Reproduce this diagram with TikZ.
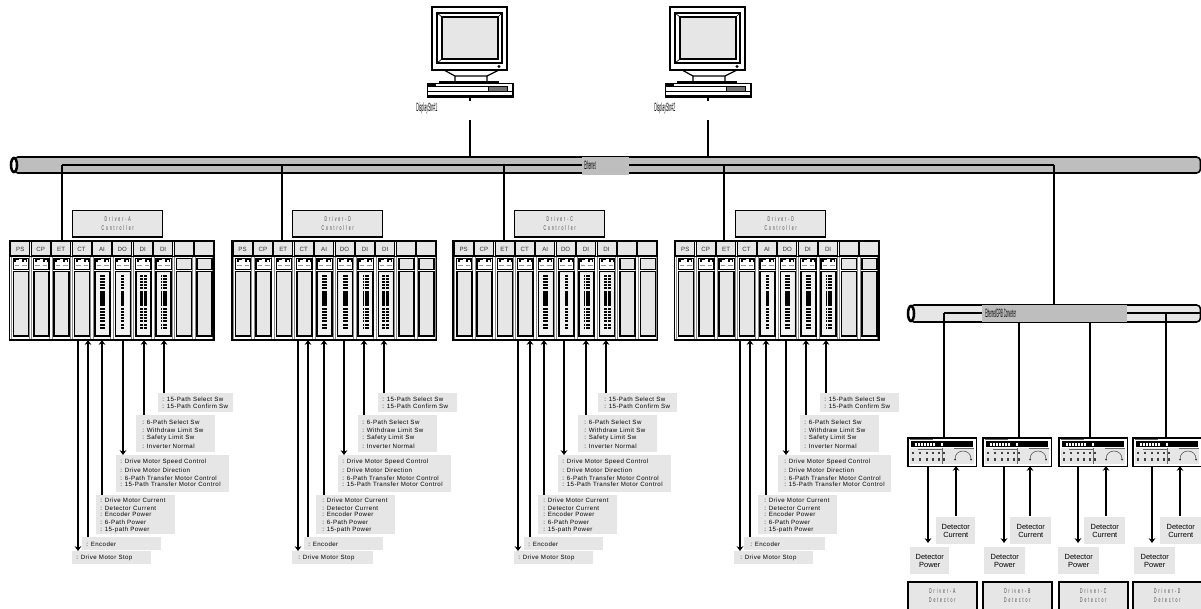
\documentclass[tikz,border=0pt]{standalone}
\usepackage{graphicx}
\usepackage{fontspec}
\usetikzlibrary{arrows.meta,calc}
\setmainfont{Liberation Sans}
\newfontfamily\lblfont[LetterSpace=7]{Liberation Sans}
\newfontfamily\wideletters[LetterSpace=55]{Liberation Sans}
\definecolor{panel}{HTML}{E6E6E6}
\definecolor{busgray}{HTML}{BEBEBE}
\tikzset{
  conn/.style={line width=1.3pt,draw=black},
  tipdown/.style={-{Stealth[length=3.6pt,width=5pt]}},
  tipup/.style={{Stealth[length=3.6pt,width=5pt]}-},
  frame/.style={line width=1.2pt,draw=black},
  lblbox/.style={fill=panel,draw=none,inner sep=0,anchor=north west},
  lbltxt/.style={anchor=west,inner sep=0,font=\lblfont\fontsize{4.6}{5}\selectfont},
  celltxt/.style={inner sep=0,font=\fontsize{4.6}{5}\selectfont,text=black!80},
  widetxt/.style={inner sep=0,text=black!75},
  squeezed/.style={inner sep=0,anchor=west},
  dettxt/.style={inner sep=0,align=center,font=\fontsize{5.6}{6}\selectfont},
}
\newcommand\spaced[1]{\scalebox{0.5}[1]{\wideletters\fontsize{5.2}{6}\selectfont #1}}
\newcommand\narrowtext[2]{\scalebox{#1}[1]{\fontsize{9}{10}\selectfont #2}}
% computer
\newcommand\computer[3]{% name, dx, label
 \begin{scope}[shift={(#2,0)}]
  \filldraw[frame,fill=white] (432,7) rectangle (507,70);
  \filldraw[line width=1pt,draw=black,fill=white] (437,13) rectangle (502,63);
  \filldraw[line width=1.2pt,draw=black,fill=panel] (442,17) rectangle (498,59);
  \draw[line width=.5pt] (437,13)--(442,17) (502,13)--(498,17) (437,63)--(442,59);
  \fill (499,66.5) circle (1.6);
  \draw[line width=.9pt] (444,70)--(455,76)--(455,81) (499,70)--(487,76)--(487,81) (455,76)--(487,76);
  \fill (439,80.5) rectangle (499,83.5);
  \filldraw[line width=.8pt,draw=black,fill=white] (427.5,83.5) rectangle (513,97);
  \fill (428,94.5) rectangle (513,98);
  \draw[line width=.7pt] (428,91.5)--(513,91.5) (436,86)--(488,86);
  \fill (428,84) rectangle (436,86.5);
  \filldraw[line width=.6pt,draw=black,fill=black!55] (488,86) rectangle (507,91);
  \coordinate (#1stub) at (470,98);
  \coordinate (#1stube) at (470,101);
  \coordinate (#1up) at (470,120);
  \coordinate (#1bus) at (470,165);
  \draw[conn] (#1stub)--(#1stube) (#1up)--(#1bus);
  \node[squeezed] (#1lbl) at (416,108.5) {\narrowtext{0.3}{#3}};
 \end{scope}}
% io block column
\newcommand\ioBlocks[2]{% x of body left, mode
 \foreach \g/\nr in {0/5,1/5,2/5,3/2}{
  \foreach \r in {1,...,\nr}{
   \pgfmathsetmacro\yy{275+16.4*\g+3*(\r-1)}
   \pgfmathsetmacro\yb{\yy+2.2}
   \if#2W\fill (#1+5,\yy) rectangle (#1+10,\yb);\fi
   \if#2N\fill (#1+6,\yy) rectangle (#1+9,\yb);\fi
   \if#2D\fill (#1+4,\yy) rectangle (#1+7,\yb);\fill (#1+8,\yy) rectangle (#1+11,\yb);\fi
   \if#2T\fill (#1+4.5,\yy) rectangle (#1+5.8,\yb);\fill (#1+7,\yy) rectangle (#1+10.5,\yb);\fi
  }}}
\newcommand\plcRack[8]{% name, x0, ctrl x, ctrl letter, modes
 \node[lblbox,draw=black,line width=1.1pt,minimum width=67.5pt,minimum height=20pt,anchor=north west] (#1ctl) at (#3,209.5) {};
 \node[widetxt] (#1ctla) at ($(#1ctl.center)+(0,-4.5)$) {\spaced{Driver-#4}};
 \node[widetxt] (#1ctlb) at ($(#1ctl.center)+(0,4.5)$) {\spaced{Controller}};
 \coordinate (#1nw) at (#2,240.7);
 \coordinate (#1se) at (#2+204.5,340);
 \filldraw[line width=1.4pt,draw=black,fill=white] (#1nw) rectangle (#1se);
 \foreach \lab [count=\i from 0] in {PS,CP,ET,CT,AI,DO,DI,DI,{},{}}{
  \pgfmathsetmacro\xc{#2+1.3+20.4*\i}
  \pgfmathsetmacro\xd{\xc+19}
  \filldraw[line width=.6pt,draw=black,fill=panel] (\xc,241.5) rectangle (\xd,255.5);
  \node[celltxt] (#1c\i) at (\xc+9.5,249) {\lab};
  \draw[line width=.7pt,draw=black!45] (\xc+.6,257)--(\xc+.6,339) (\xd-.6,257)--(\xd-.6,339);
  \pgfmathsetmacro\xb{#2+3.9+20.4*\i}
  \pgfmathsetmacro\xe{\xb+15}
  \filldraw[line width=1.1pt,draw=black,fill=panel] (\xb,258.5) rectangle (\xe,269.5);
  \filldraw[line width=1.2pt,draw=black,fill=panel] (\xb,271.5) rectangle (\xe,336);
  \ifnum\i<8
   \fill[white] (\xb+.5,259) rectangle (\xe-.5,269);
   \fill (\xb+1,259) rectangle (\xb+6,262);
   \fill (\xb+9,259) rectangle (\xb+14,262);
   \fill[white] (\xb+3,259.5) rectangle (\xb+6,261.5);
   \fill[white] (\xb+11,259.5) rectangle (\xb+13,261.5);
   \draw[line width=.5pt,draw=black!40] (\xb+1.5,265)--(\xb+6,265) (\xb+9,265)--(\xb+13.5,265);
  \fi
 }
 \draw[line width=1.2pt] (#2,256.5)--(#2+204.5,256.5);
 \foreach \m/\k in {#5/4,#6/5,#7/6,#8/7}{
  \pgfmathsetmacro\xb{#2+3.9+20.4*\k}
  \fill[black!5] (\xb+1,272.5) rectangle (\xb+14,335);
  \ioBlocks{\xb}{\m}
 }
}
\newcommand\ioGroup[9]{% name, tip, arrow x, box x, box w, y1, y2, text x, lines
 \pgfmathsetmacro\bw{#5*0.75}\pgfmathsetmacro\bh{(#7-#6)*0.75}
 \node[lblbox,minimum width=\bw pt,minimum height=\bh pt] (#1box) at (#4,#6) {};
 \foreach \ly/\lt [count=\c] in #9 {\node[lbltxt] (#1t\c) at (#8,\ly) {\lt};}
 \coordinate (#1port) at (#3,340);
 \coordinate (#1end) at (#3,#6);
 \draw[conn,#2] (#1port)--(#1end);
}
\def\tSel{{399.5/: 15-Path Select Sw},{406/: 15-Path Confirm Sw}}
\def\tDI{{422/: 6-Path Select Sw},{430/: Withdraw Limit Sw},{438/: Safety Limit Sw},{446/: Inverter Normal}}
\def\tDO{{462/: Drive Motor Speed Control},{470/: Drive Motor Direction},{478/: 6-Path Transfer Motor Control},{484/: 15-Path Transfer Motor Control}}
\def\tAI{{500/: Drive Motor Current},{508/: Detector Current},{514/: Encoder Power},{522/: 6-Path Power},{530/: 15-path Power}}
\def\tEnc{{544/: Encoder}}
\def\tStop{{558/: Drive Motor Stop}}
% instrument
\newcommand\instrument[3]{% name, x, drop x
 \begin{scope}[shift={(#2,437)}]
  \node[lblbox,draw=black,line width=1.3pt,minimum width=51.5pt,minimum height=21.5pt,fill=white] (#1) at (0,0) {};
  \fill (3.5,4.2) rectangle (66,9.8);
  \foreach \q in {8,11,14,17,20,23,26,34}{\fill[white] (\q,5.5) rectangle (\q+1.7,8.5);}
  \fill[panel] (3,10.5) rectangle (67,27);
  \draw[line width=.3pt,draw=black!60] (3,2.5)--(26,2.5) (11,12)--(35,12) (35,10.5)--(35,27) (47,11)--(67,11);
  \foreach \bx in {5,12,19,25,31,36}{
    \fill[black!75] (\bx,14.5) rectangle (\bx+2.3,17);
    \fill[black!75] (\bx,21) rectangle (\bx+2.3,23.5);}
  \draw[line width=.4pt,draw=black!70] (48,23) .. controls (47,11) and (65,11) .. (64,23);
  \fill[black!80] (48,22.5) circle (1);
  \fill[black!80] (64,22.5) circle (1);
 \end{scope}
}
\newcommand\detGroup[9]{% name, instrument x, letter, down x, up x, cur x1, cur x2, pow x1, pow x2
 \instrument{#1inst}{#2}{}
 \pgfmathsetmacro\cw{(#7-#6)*.75}\pgfmathsetmacro\pw{(#9-#8)*.75}
 \node[lblbox,minimum width=\cw pt,minimum height=20.25pt] (#1cur) at (#6,517) {};
 \node[dettxt] (#1curt) at (#1cur.center) {Detector\\Current};
 \node[lblbox,minimum width=\pw pt,minimum height=20.25pt] (#1pow) at (#8,547) {};
 \node[dettxt] (#1powt) at (#1pow.center) {Detector\\Power};
 \coordinate (#1dn) at (#4,466);
 \coordinate (#1dne) at (#4,543);
 \coordinate (#1ups) at (#5,516);
 \coordinate (#1upe) at (#5,466);
 \draw[conn,tipdown] (#1dn)--(#1dne);
 \draw[conn,tipdown] (#1ups)--(#1upe);
 \node[lblbox,draw=black,line width=1.5pt,minimum width=51.5pt,minimum height=21pt] (#1box) at (#2,581) {};
 \node[widetxt] (#1a) at ($(#1box.center)+(0,-4.5)$) {\spaced{Driver-#3}};
 \node[widetxt] (#1b) at ($(#1box.center)+(0,4.5)$) {\spaced{Detector}};
}
\begin{document}
\begin{tikzpicture}[x=0.75pt,y=-0.75pt]
\useasboundingbox (0,0) rectangle (1201,608);
% computers
\computer{pca}{0}{DisplayStn\#1}
\computer{pcb}{238}{DisplayStn\#2}
% main bus
\filldraw[frame,fill=busgray,rounded corners=3pt] (14,157)--(1200.5,157)--(1200.5,173)--(14,173)--cycle;
\filldraw[line width=1.9pt,draw=black,fill=white] (14,165) ellipse (3 and 7);
\coordinate (busa) at (62,165);
\coordinate (busb) at (282,165);
\coordinate (busc) at (504,165);
\coordinate (busd) at (724,165);
\coordinate (buse) at (1054,165);
\coordinate (busf) at (582,165);
\coordinate (busg) at (629,165);
\draw[line width=1.6pt] (busa)--(busf) (busg)--(buse);
\node[fill=busgray,minimum width=35.25pt,minimum height=13.5pt,inner sep=0,anchor=north west] (ether) at (582,156.5) {};
\node[squeezed] (ethert) at (584,165) {\narrowtext{0.25}{Ethernet}};
% drops
\coordinate (rka) at (62,240);
\coordinate (rkb) at (282,240);
\coordinate (rkc) at (504,240);
\coordinate (rkd) at (724,240);
\draw[conn] (busa)--(rka) (busb)--(rkb) (busc)--(rkc) (busd)--(rkd);
% racks
\plcRack{a}{9.5}{72}{A}{W}{N}{D}{T}
\plcRack{b}{231.7}{292}{D}{W}{W}{T}{D}
\plcRack{c}{452.8}{514}{C}{W}{N}{T}{D}
\plcRack{d}{674.5}{735}{D}{N}{W}{W}{T}
% rack A io
\ioGroup{as}{tipup}{164}{158}{75}{393}{412}{162}{\tSel}
\ioGroup{ai}{tipup}{144}{136}{79}{415}{452}{142}{\tDI}
\ioGroup{ao}{tipdown}{123}{116}{113}{455}{492}{120}{\tDO}
\ioGroup{aa}{tipup}{102}{96}{79}{495}{534}{100}{\tAI}
\ioGroup{ae}{tipup}{88}{82}{79}{537}{550}{86}{\tEnc}
\ioGroup{at}{tipdown}{78}{72}{79}{551}{564}{76}{\tStop}
% rack B io
\ioGroup{bs}{tipup}{384}{378}{79}{393}{412}{382}{\tSel}
\ioGroup{bi}{tipup}{364}{358}{79}{415}{452}{362}{\tDI}
\ioGroup{bo}{tipdown}{344}{338}{113}{455}{492}{342}{\tDO}
\ioGroup{ba}{tipup}{324}{316}{79}{495}{534}{322}{\tAI}
\ioGroup{be}{tipup}{308}{304}{79}{537}{550}{308}{\tEnc}
\ioGroup{bt}{tipdown}{298}{292}{81}{551}{564}{298}{\tStop}
% rack C io
\ioGroup{cs}{tipup}{606}{598}{79}{393}{412}{604}{\tSel}
\ioGroup{ci}{tipup}{586}{578}{79}{415}{452}{584}{\tDI}
\ioGroup{co}{tipdown}{564}{558}{113}{455}{492}{562}{\tDO}
\ioGroup{ca}{tipup}{544}{538}{79}{495}{534}{543}{\tAI}
\ioGroup{ce}{tipup}{530}{524}{79}{537}{550}{528}{\tEnc}
\ioGroup{ct}{tipdown}{518}{514}{79}{551}{564}{518}{\tStop}
% rack D io
\ioGroup{ds}{tipup}{826}{820}{79}{393}{412}{824}{\tSel}
\ioGroup{di}{tipup}{806}{800}{79}{415}{452}{804}{\tDI}
\ioGroup{do}{tipdown}{786}{778}{113}{455}{492}{784}{\tDO}
\ioGroup{da}{tipup}{766}{758}{79}{495}{534}{764}{\tAI}
\ioGroup{de}{tipup}{750}{744}{81}{537}{550}{750}{\tEnc}
\ioGroup{dt}{tipdown}{740}{734}{79}{551}{564}{740}{\tStop}
% converter bus
\filldraw[frame,fill=panel,rounded corners=3pt] (910,305)--(1200.5,305)--(1200.5,322)--(910,322)--cycle;
\filldraw[line width=1.9pt,draw=black,fill=white] (911,313.5) ellipse (3 and 7.5);
\coordinate (cva) at (944,313);
\coordinate (cvb) at (1166,313);
\coordinate (cvl) at (982,313);
\coordinate (cvr) at (1127,313);
\coordinate (cve) at (1200,313);
\coordinate (buscv) at (1054,305);
\draw[line width=1.5pt] (cva)--(cvl) (cvr)--(cve);
\node[fill=busgray,minimum width=108.75pt,minimum height=12.75pt,inner sep=0,anchor=north west] (conv) at (982,305) {};
\node[squeezed] (convt) at (985,313.5) {\narrowtext{0.23}{Ethernet/GPIB Converter}};
\draw[conn] (buse)--(buscv);
% detector groups
\detGroup{p}{907}{A}{928}{956}{936}{975}{910}{949}
\detGroup{q}{982}{B}{1004}{1030}{1010}{1051}{984}{1025}
\detGroup{r}{1058}{C}{1078}{1106}{1084}{1125}{1058}{1099}
\detGroup{s}{1132}{D}{1152}{1180}{1160}{1201}{1134}{1175}
\coordinate (cvc) at (1019,322);
\coordinate (cvd) at (1090,322);
\draw[conn] (cva)--(pinst.north -| cva);
\draw[conn] (cvc)--(qinst.north -| cvc);
\draw[conn] (cvd)--(rinst.north -| cvd);
\draw[conn] (cvb)--(sinst.north -| cvb);
\end{tikzpicture}
\end{document}
